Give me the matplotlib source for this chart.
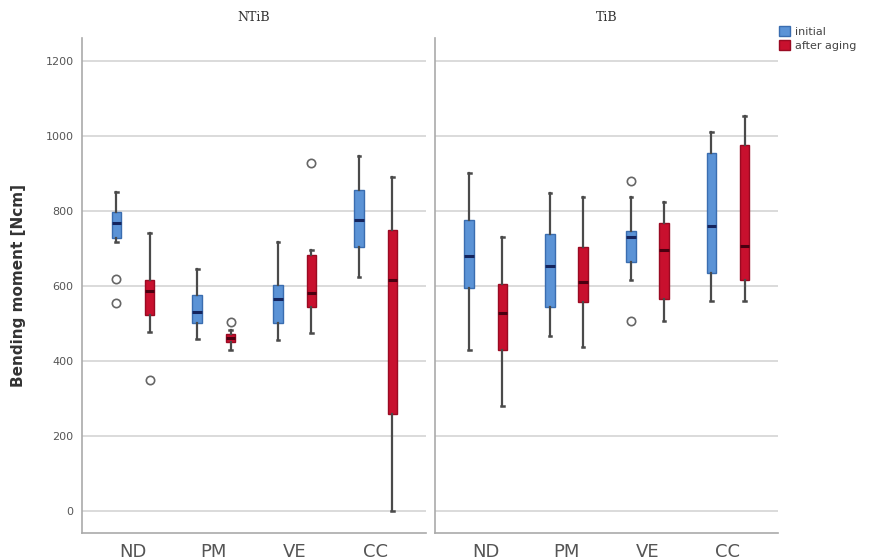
import matplotlib
matplotlib.use("Agg")
import matplotlib.pyplot as plt
from matplotlib.patches import Patch

categories = ["ND", "PM", "VE", "CC"]
panels = ["NTiB", "TiB"]
series = ["initial", "after aging"]

# NTiB - initial
ntib_init_lo  = [717, 457, 456, 624]
ntib_init_q1  = [728, 501, 501, 704]
ntib_init_med = [768, 530, 566, 777]
ntib_init_q3  = [798, 575, 602, 856]
ntib_init_hi  = [851, 644, 717, 947]
ntib_init_out = [[619, 553], [], [], []]
# NTiB - after aging
ntib_aged_lo  = [477, 428, 474, 0]
ntib_aged_q1  = [521, 450, 544, 259]
ntib_aged_med = [586, 462, 581, 617]
ntib_aged_q3  = [617, 472, 682, 749]
ntib_aged_hi  = [741, 483, 697, 891]
ntib_aged_out = [[349], [504], [929], []]
# TiB - initial
tib_init_lo  = [430, 465, 615, 559]
tib_init_q1  = [594, 544, 664, 635]
tib_init_med = [679, 652, 731, 759]
tib_init_q3  = [775, 738, 747, 954]
tib_init_hi  = [902, 847, 838, 1012]
tib_init_out = [[], [], [880, 506], []]
# TiB - after aging
tib_aged_lo  = [278, 437, 506, 559]
tib_aged_q1  = [428, 556, 564, 615]
tib_aged_med = [527, 610, 695, 707]
tib_aged_q3  = [604, 703, 768, 976]
tib_aged_hi  = [731, 838, 824, 1053]
tib_aged_out = [[], [], [], []]

yticks = [0, 200, 400, 600, 800, 1000, 1200]

data = {
    "NTiB": [
        (ntib_init_lo, ntib_init_q1, ntib_init_med, ntib_init_q3, ntib_init_hi, ntib_init_out),
        (ntib_aged_lo, ntib_aged_q1, ntib_aged_med, ntib_aged_q3, ntib_aged_hi, ntib_aged_out),
    ],
    "TiB": [
        (tib_init_lo, tib_init_q1, tib_init_med, tib_init_q3, tib_init_hi, tib_init_out),
        (tib_aged_lo, tib_aged_q1, tib_aged_med, tib_aged_q3, tib_aged_hi, tib_aged_out),
    ],
}

face = ["#5b93d6", "#c8102e"]
edge = ["#3a6db0", "#9a0a22"]
medc = ["#15255e", "#4a0010"]

fig = plt.figure(figsize=(8.74, 5.6), dpi=100)
W, H = 874, 560
ax_l = fig.add_axes([82 / W, 1 - 533 / H, (426 - 82) / W, (533 - 38) / H])
ax_r = fig.add_axes([435 / W, 1 - 533 / H, (778 - 435) / W, (533 - 38) / H], sharey=ax_l)

offsets = [-0.205, 0.205]
for ax, panel in zip([ax_l, ax_r], panels):
    for s, (lo, q1, med, q3, hi, out) in enumerate(data[panel]):
        stats = []
        for i in range(len(categories)):
            stats.append(dict(whislo=lo[i], q1=q1[i], med=med[i], q3=q3[i],
                              whishi=hi[i], fliers=out[i]))
        pos = [i + offsets[s] for i in range(len(categories))]
        ax.bxp(stats, positions=pos, widths=0.12, patch_artist=True,
               showfliers=True, manage_ticks=False,
               boxprops=dict(facecolor=face[s], edgecolor=edge[s], linewidth=1.0),
               medianprops=dict(color=medc[s], linewidth=2.2),
               whiskerprops=dict(color="#4a4a4a", linewidth=1.6),
               capprops=dict(color="#4a4a4a", linewidth=1.8),
               capwidths=0.03,
               flierprops=dict(marker="o", markersize=6, markerfacecolor="none",
                               markeredgecolor="#666666", markeredgewidth=1.2))
    ax.set_xlim(-0.63, 3.62)
    ax.set_ylim(-60, 1262)
    ax.set_yticks(yticks)
    ax.grid(axis="y", color="#d4d4d4", linewidth=1.2)
    ax.set_axisbelow(True)
    ax.set_xticks(range(len(categories)))
    ax.set_xticklabels(categories, fontsize=13, color="#555555")
    ax.tick_params(axis="x", length=0, pad=7)
    for sp in ["top", "right"]:
        ax.spines[sp].set_visible(False)
    for sp in ["left", "bottom"]:
        ax.spines[sp].set_color("#aaaaaa")
        ax.spines[sp].set_linewidth(1.2)
    ax.set_title(panel, fontsize=9, family="DejaVu Serif", color="#333333", pad=12)

ax_l.tick_params(axis="y", length=0, labelsize=8, labelcolor="#555555", pad=6)
ax_r.tick_params(axis="y", length=0, labelleft=False)
ax_l.set_ylabel("Bending moment [Ncm]", fontsize=11, fontweight="bold", color="#333333", labelpad=14)

handles = [Patch(facecolor=face[i], edgecolor=edge[i], label=series[i]) for i in range(2)]
leg = fig.legend(handles=handles, loc="upper left", bbox_to_anchor=(777 / W, 1 - 24 / H),
                 frameon=False, fontsize=8, handlelength=1.0, handleheight=1.0,
                 handletextpad=0.4, labelspacing=0.3, borderaxespad=0, borderpad=0.2)
for t in leg.get_texts():
    t.set_color("#444444")

fig.savefig("out.png", dpi=100)
